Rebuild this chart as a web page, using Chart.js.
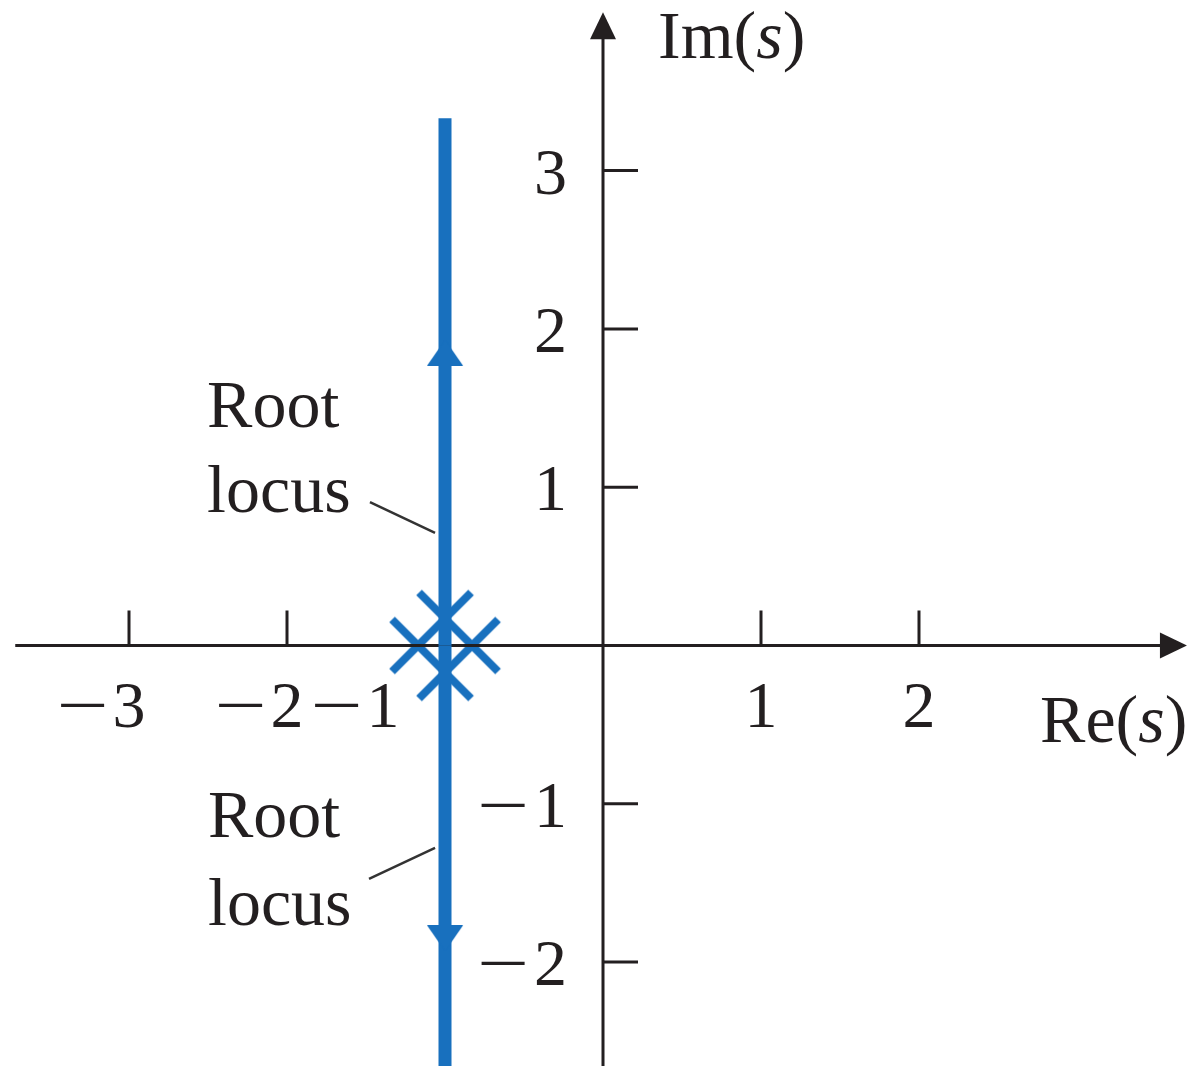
<!DOCTYPE html>
<html>
<head>
<meta charset="utf-8">
<title>Root locus</title>
<script src="https://cdn.jsdelivr.net/npm/chart.js@4.4.1/dist/chart.umd.min.js"></script>
<style>
  html, body { margin: 0; padding: 0; background: #fff; overflow: hidden; }
  #locus-chart { display: block; }
</style>
</head>
<body>
<canvas id="locus-chart" width="1196" height="1066"></canvas>
<script>
// s-plane data
const xTicks = [-3, -2, -1, 1, 2];
const yTicks = [-2, -1, 1, 2, 3];
const poles = [{ x: -1, y: 0 }];                       // double pole at s = -1
const locusUpper = [{ x: -1, y: 0 }, { x: -1, y: 3.33 }];
const locusLower = [{ x: -1, y: 0 }, { x: -1, y: -2.8 }];
const arrowsUp = [{ x: -1, y: 1.85 }];
const arrowsDown = [{ x: -1, y: -1.85 }];

const blue = '#1870be';
const ink = '#231f20';
const serif = '"Liberation Serif", "Times New Roman", serif';

// pole symbol: two overlapping crosses
function poleMarker() {
  const c = document.createElement('canvas');
  c.width = 124; c.height = 124;
  const g = c.getContext('2d');
  const m = 62, a = 27, e = 26;
  g.strokeStyle = blue;
  g.lineWidth = 8;
  const seg = (x1, y1, x2, y2) => {
    g.beginPath(); g.moveTo(m + x1, m + y1); g.lineTo(m + x2, m + y2); g.stroke();
  };
  seg(-e, -a - e, a + e, e);
  seg(e, -a - e, -a - e, e);
  seg(-a - e, -e, e, a + e);
  seg(a + e, -e, -e, a + e);
  return c;
}

function arrowMarker(up) {
  const c = document.createElement('canvas');
  c.width = 38; c.height = 26;
  const g = c.getContext('2d');
  g.fillStyle = blue;
  g.beginPath();
  if (up) { g.moveTo(19, 0); g.lineTo(37, 26); g.lineTo(1, 26); }
  else { g.moveTo(1, 0); g.lineTo(37, 0); g.lineTo(19, 26); }
  g.closePath();
  g.fill();
  return c;
}

// axes, ticks and labels drawn right after the pole symbol so the locus sits on top
const sPlaneAxes = {
  id: 'sPlaneAxes',
  afterDatasetDraw(chart, args) {
    if (args.index !== 4) return;
    const ctx = chart.ctx;
    const xs = chart.scales.x, ys = chart.scales.y;
    const px = v => xs.getPixelForValue(v);
    const py = v => ys.getPixelForValue(v);
    const ox = px(0), oy = py(0);

    ctx.save();
    ctx.strokeStyle = ink;
    ctx.fillStyle = ink;
    ctx.lineWidth = 3;

    // real axis with arrow
    const xTip = px(3.696);
    ctx.beginPath();
    ctx.moveTo(px(-3.72), oy);
    ctx.lineTo(xTip - 20, oy);
    ctx.stroke();
    ctx.beginPath();
    ctx.moveTo(xTip, oy);
    ctx.lineTo(xTip - 27, oy - 13);
    ctx.lineTo(xTip - 27, oy + 13);
    ctx.closePath();
    ctx.fill();

    // imaginary axis with arrow
    const yTip = py(4.0);
    ctx.beginPath();
    ctx.moveTo(ox, chart.chartArea.bottom);
    ctx.lineTo(ox, yTip + 20);
    ctx.stroke();
    ctx.beginPath();
    ctx.moveTo(ox, yTip);
    ctx.lineTo(ox - 13, yTip + 27);
    ctx.lineTo(ox + 13, yTip + 27);
    ctx.closePath();
    ctx.fill();

    // tick marks
    xTicks.forEach(v => {
      ctx.beginPath(); ctx.moveTo(px(v), oy); ctx.lineTo(px(v), oy - 35); ctx.stroke();
    });
    yTicks.forEach(v => {
      ctx.beginPath(); ctx.moveTo(ox, py(v)); ctx.lineTo(ox + 35, py(v)); ctx.stroke();
    });

    ctx.font = '66px ' + serif;
    ctx.textBaseline = 'alphabetic';

    // wide minus sign, right edge at x
    const minus = (x, base) => {
      ctx.save();
      ctx.translate(x, base);
      ctx.scale(1.4, 1);
      ctx.textAlign = 'right';
      ctx.fillText('\u2212', 0, 0);
      ctx.restore();
    };

    // x tick labels: digit centred on the tick, minus hanging to the left
    xTicks.forEach(v => {
      const digit = String(Math.abs(v));
      const dw = ctx.measureText(digit).width;
      const cx = px(v) + (v === -1 ? -62 : 0);
      const base = oy + 82;
      ctx.textAlign = 'center';
      ctx.fillText(digit, cx, base);
      if (v < 0) minus(cx - dw / 2 - 4, base);
    });

    // y tick labels: right aligned left of the axis
    yTicks.forEach(v => {
      const digit = String(Math.abs(v));
      const dw = ctx.measureText(digit).width;
      const right = ox - 36;
      const base = py(v) + 23;
      ctx.textAlign = 'right';
      ctx.fillText(digit, right, base);
      if (v < 0) minus(right - dw - 5, base);
    });

    // axis titles
    const mixed = (parts, x, y) => {
      ctx.textAlign = 'left';
      let cx = x;
      parts.forEach(([t, it]) => {
        ctx.font = (it ? 'italic ' : '') + '68px ' + serif;
        ctx.fillText(t, cx, y);
        cx += ctx.measureText(t).width;
      });
    };
    mixed([['Im(', false], ['s', true], [')', false]], px(0.348), py(3.711));
    mixed([['Re(', false], ['s', true], [')', false]], px(2.766), py(-0.61));

    // locus callouts
    ctx.font = '68px ' + serif;
    ctx.textAlign = 'left';
    ctx.fillText('Root', px(-2.506), py(1.38));
    ctx.fillText('locus', px(-2.506), py(0.843));
    ctx.fillText('Root', px(-2.5), py(-1.21));
    ctx.fillText('locus', px(-2.5), py(-1.766));

    ctx.strokeStyle = '#333';
    ctx.lineWidth = 2.5;
    ctx.beginPath();
    ctx.moveTo(px(-1.475), py(0.906)); ctx.lineTo(px(-1.063), py(0.711));
    ctx.moveTo(px(-1.063), py(-1.279)); ctx.lineTo(px(-1.481), py(-1.475));
    ctx.stroke();

    ctx.restore();
  }
};

const pointSet = (data, style) => ({
  data: data,
  pointStyle: style,
  pointRadius: 10,
  showLine: false
});

const lineSet = data => ({
  data: data,
  showLine: true,
  borderColor: blue,
  borderWidth: 13,
  borderCapStyle: 'butt',
  pointRadius: 0
});

const ctx = document.getElementById('locus-chart');
const locusChart = new Chart(ctx, {
  type: 'scatter',
  data: {
    datasets: [
      pointSet(arrowsUp, arrowMarker(true)),
      pointSet(arrowsDown, arrowMarker(false)),
      lineSet(locusUpper),
      lineSet(locusLower),
      pointSet(poles, poleMarker())
    ]
  },
  options: {
    responsive: false,
    devicePixelRatio: 1,
    animation: false,
    events: [],
    layout: { padding: 0, autoPadding: false },
    plugins: { legend: { display: false }, tooltip: { enabled: false } },
    scales: {
      x: { type: 'linear', display: false, min: -3.8165, max: 3.7532 },
      y: { type: 'linear', display: false, min: -2.6564, max: 4.0777 }
    }
  },
  plugins: [sPlaneAxes]
});
</script>
</body>
</html>
